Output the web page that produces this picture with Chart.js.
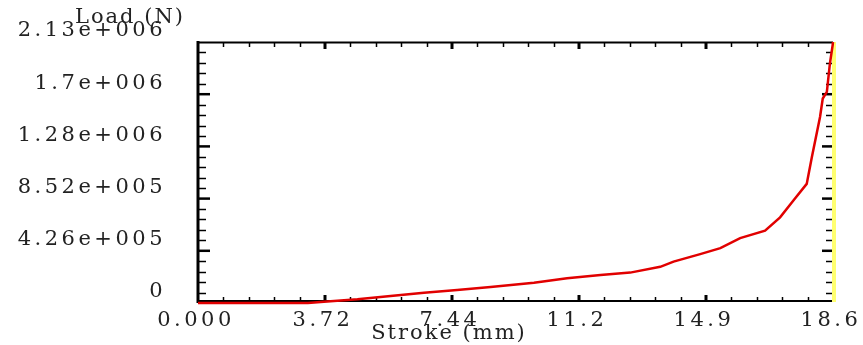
<!DOCTYPE html>
<html>
<head>
<meta charset="utf-8">
<script src="https://cdn.jsdelivr.net/npm/chart.js@4"></script>
<style>
  html, body { margin: 0; padding: 0; background: #ffffff; }
  #wrap { width: 863px; height: 345px; }
</style>
</head>
<body>
<div id="wrap"><canvas id="c" width="863" height="345"></canvas></div>
<script>
// ---- data ----
const strokeMm = [0, 3.22, 3.69, 4.67, 5.64, 6.62, 7.59, 8.57, 9.84, 10.81, 11.79, 12.66, 13.54, 13.93, 14.71, 15.30, 15.88, 16.61, 17.05, 17.44, 17.83, 17.98, 18.22, 18.30, 18.42, 18.51, 18.59, 18.60];
const loadN = [0, 0, 11000, 30000, 57000, 84000, 107000, 131000, 166000, 202000, 229000, 248000, 295000, 338000, 399000, 448000, 530000, 590000, 699000, 836000, 972000, 1190000, 1518000, 1669000, 1723000, 1955000, 2105000, 2130000];

const xTickValues = [0, 3.72, 7.44, 11.16, 14.88, 18.6];
const xTickLabels = ['0.000', '3.72', '7.44', '11.2', '14.9', '18.6'];
const yTickValues = [0, 426000, 852000, 1278000, 1704000, 2130000];
const yTickLabels = ['0', '4.26e+005', '8.52e+005', '1.28e+006', '1.7e+006', '2.13e+006'];
const xTitle = 'Stroke (mm)';
const yTitle = 'Load (N)';
const minorDivisions = 5;

const FONT = '21px "DejaVu Serif", "Liberation Serif", serif';

function minorValues(majors) {
  const out = [];
  for (let i = 0; i < majors.length - 1; i++) {
    const a = majors[i], b = majors[i + 1];
    for (let k = 1; k < minorDivisions; k++) out.push(a + (b - a) * k / minorDivisions);
  }
  return out;
}

const framePlugin = {
  id: 'frame',
  beforeDatasetsDraw(chart) {
    const { ctx, chartArea: a, scales } = chart;
    const xs = scales.x, ys = scales.y;
    ctx.save();
    ctx.strokeStyle = '#000000';
    ctx.lineCap = 'butt';
    // left axis
    ctx.lineWidth = 3;
    ctx.beginPath(); ctx.moveTo(a.left, a.top - 1); ctx.lineTo(a.left, a.bottom); ctx.stroke();
    // top axis
    ctx.lineWidth = 2;
    ctx.beginPath(); ctx.moveTo(a.left - 1, a.top + 0.5); ctx.lineTo(a.right, a.top + 0.5); ctx.stroke();
    // bottom axis
    ctx.beginPath(); ctx.moveTo(a.left - 1, a.bottom - 2); ctx.lineTo(a.right, a.bottom - 2); ctx.stroke();

    // ticks x (bottom up, top down)
    const xMin = minorValues(xTickValues);
    xTickValues.forEach(v => {
      const px = xs.getPixelForValue(v);
      if (v === 0 || v === 18.6) return;
      ctx.lineWidth = 3;
      ctx.beginPath(); ctx.moveTo(px, a.bottom - 3); ctx.lineTo(px, a.bottom - 8); ctx.stroke();
      ctx.beginPath(); ctx.moveTo(px, a.top + 1); ctx.lineTo(px, a.top + 7); ctx.stroke();
    });
    xMin.forEach(v => {
      const px = Math.round(xs.getPixelForValue(v)) + 0.5;
      ctx.lineWidth = 1.5;
      ctx.beginPath(); ctx.moveTo(px, a.bottom - 3); ctx.lineTo(px, a.bottom - 6); ctx.stroke();
      ctx.beginPath(); ctx.moveTo(px, a.top + 1); ctx.lineTo(px, a.top + 5); ctx.stroke();
    });
    // ticks y (left right-pointing, right left-pointing)
    const yMin = minorValues(yTickValues);
    yTickValues.forEach(v => {
      const py = ys.getPixelForValue(v);
      if (v === 0 || v === 2130000) return;
      ctx.lineWidth = 2.5;
      ctx.beginPath(); ctx.moveTo(a.left, py); ctx.lineTo(a.left + 12, py); ctx.stroke();
      ctx.beginPath(); ctx.moveTo(a.right - 1, py); ctx.lineTo(a.right - 11, py); ctx.stroke();
    });
    yMin.forEach(v => {
      const py = Math.round(ys.getPixelForValue(v)) + 0.5;
      ctx.lineWidth = 1.5;
      ctx.beginPath(); ctx.moveTo(a.left, py); ctx.lineTo(a.left + 8, py); ctx.stroke();
      ctx.beginPath(); ctx.moveTo(a.right - 1, py); ctx.lineTo(a.right - 7, py); ctx.stroke();
    });
    // right axis (yellow)
    ctx.strokeStyle = '#ffff70';
    ctx.lineWidth = 4;
    ctx.beginPath(); ctx.moveTo(a.right + 1, a.top); ctx.lineTo(a.right + 1, a.bottom - 1); ctx.stroke();

    // tick labels
    ctx.fillStyle = '#222222';
    ctx.font = FONT;
    ctx.letterSpacing = '3.5px';
    ctx.textBaseline = 'middle';
    ctx.textAlign = 'right';
    yTickValues.forEach((v, i) => {
      const py = ys.getPixelForValue(v);
      ctx.fillText(yTickLabels[i], 166, py - 11);
    });
    ctx.textAlign = 'center';
    xTickValues.forEach((v, i) => {
      const px = xs.getPixelForValue(v);
      ctx.fillText(xTickLabels[i], px - 2, a.bottom + 18);
    });
    // axis titles
    ctx.letterSpacing = '2px';
    ctx.textAlign = 'center';
    ctx.fillText(yTitle, 130, 18);
    ctx.fillText(xTitle, 449, a.bottom + 31);
    ctx.restore();
  }
};

new Chart(document.getElementById('c'), {
  type: 'line',
  data: {
    datasets: [{
      data: strokeMm.map((x, i) => ({ x: x, y: loadN[i] })),
      borderColor: '#e10000',
      borderWidth: 2.5,
      pointRadius: 0,
      tension: 0,
      fill: false,
      clip: 4
    }]
  },
  options: {
    responsive: false,
    animation: false,
    events: [],
    layout: { padding: { left: 198, right: 30, top: 42, bottom: 42 } },
    scales: {
      x: { type: 'linear', min: 0, max: 18.6, display: false },
      y: { type: 'linear', min: 0, max: 2130000, display: false }
    },
    plugins: { legend: { display: false }, tooltip: { enabled: false } }
  },
  plugins: [framePlugin]
});
</script>
</body>
</html>
